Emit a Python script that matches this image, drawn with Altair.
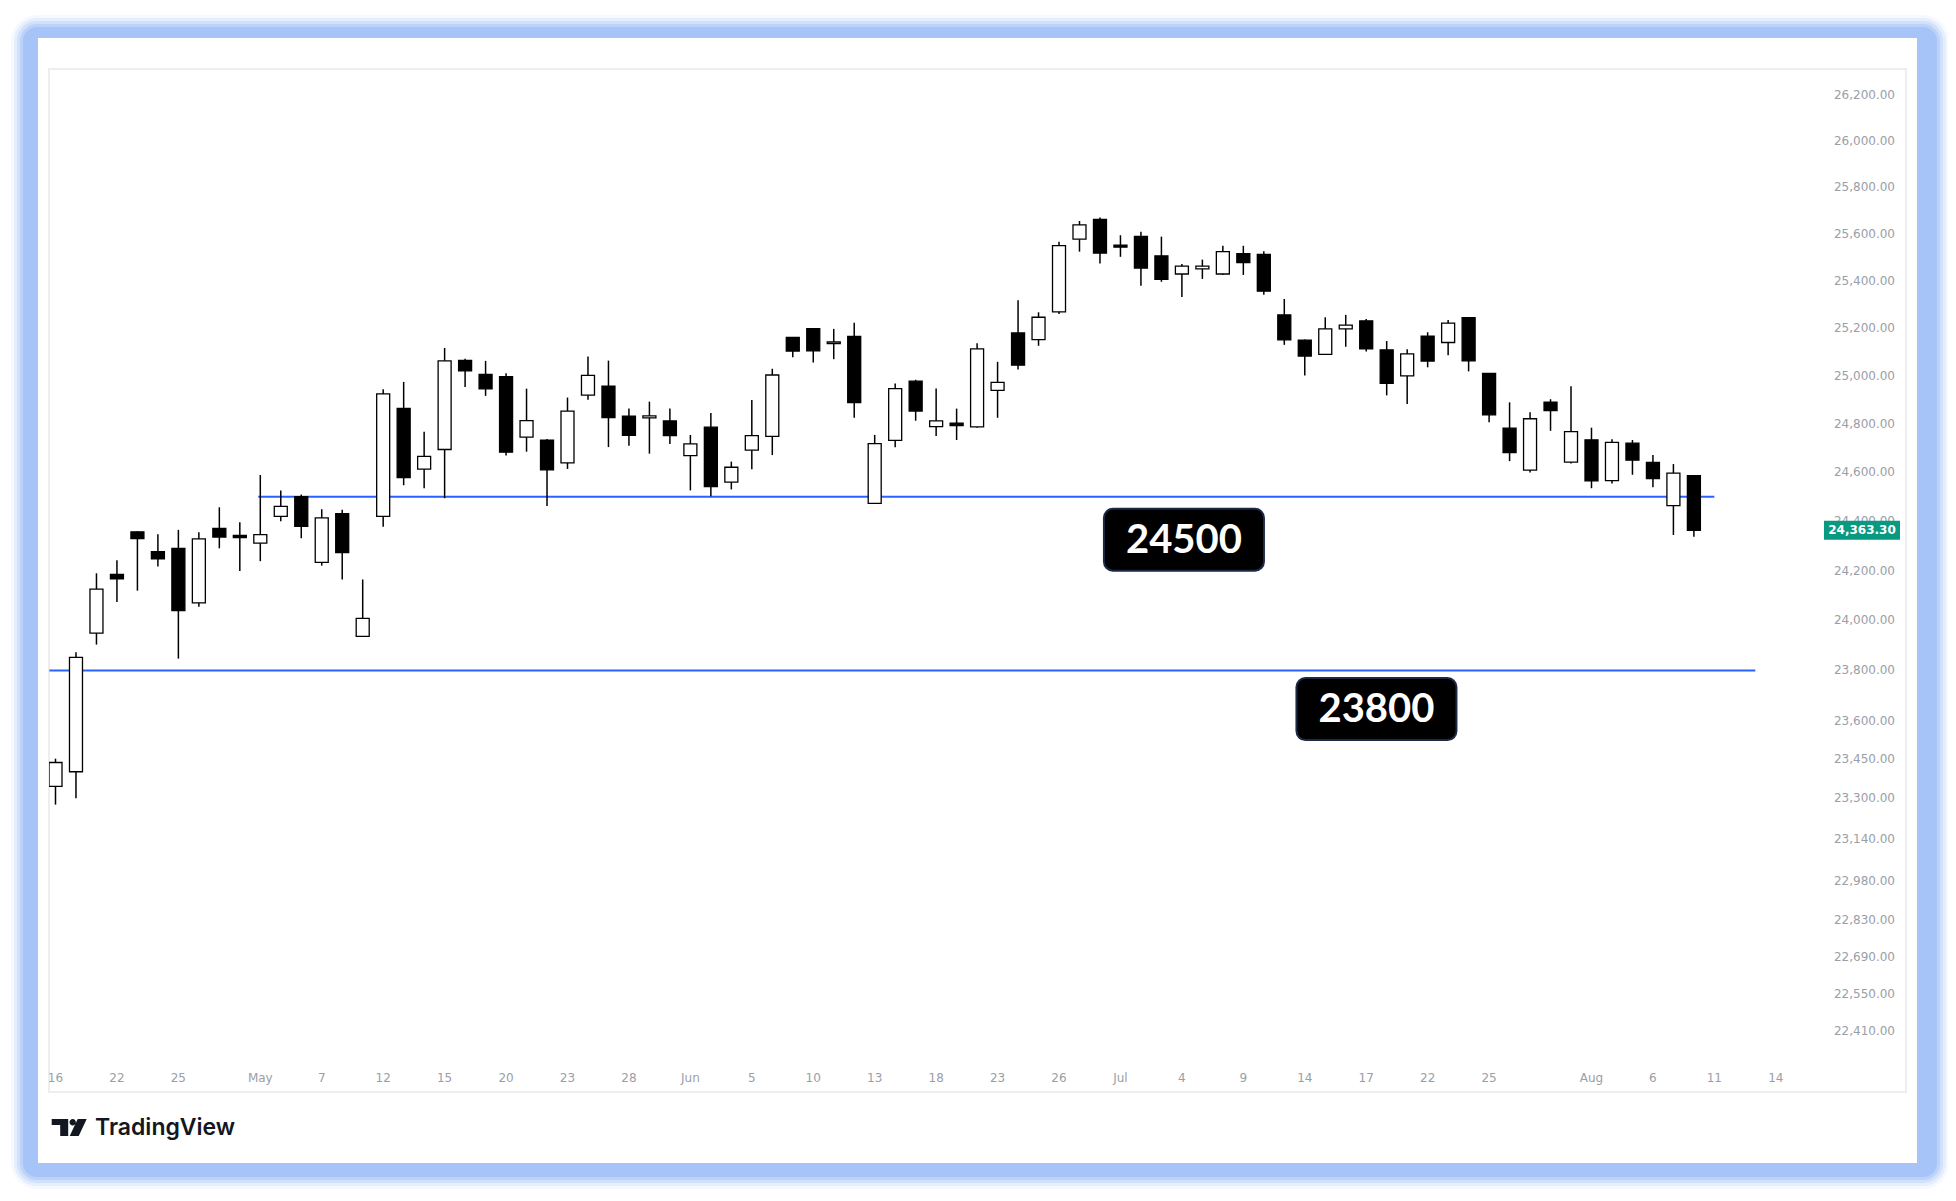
import altair as alt
import pandas as pd

# ---------------- data (Nifty 50 daily) ----------------
dates = ["Apr 16", "Apr 17", "Apr 21", "Apr 22", "Apr 23", "Apr 24", "Apr 25", "Apr 28", "Apr 29", "Apr 30",
         "May 2", "May 5", "May 6", "May 7", "May 8", "May 9", "May 12", "May 13", "May 14", "May 15",
         "May 16", "May 19", "May 20", "May 21", "May 22", "May 23", "May 26", "May 27", "May 28", "May 29",
         "May 30", "Jun 2", "Jun 3", "Jun 4", "Jun 5", "Jun 6", "Jun 9", "Jun 10", "Jun 11", "Jun 12",
         "Jun 13", "Jun 16", "Jun 17", "Jun 18", "Jun 19", "Jun 20", "Jun 23", "Jun 24", "Jun 25", "Jun 26",
         "Jun 27", "Jun 30", "Jul 1", "Jul 2", "Jul 3", "Jul 4", "Jul 7", "Jul 8", "Jul 9", "Jul 10",
         "Jul 11", "Jul 14", "Jul 15", "Jul 16", "Jul 17", "Jul 18", "Jul 21", "Jul 22", "Jul 23", "Jul 24",
         "Jul 25", "Jul 28", "Jul 29", "Jul 30", "Jul 31", "Aug 1", "Aug 4", "Aug 5", "Aug 6", "Aug 7", "Aug 8"]
opens = [23344, 23401, 23949, 24185, 24357, 24277, 24290, 24070, 24371, 24342,
         24311, 24420, 24500, 24233, 24431, 23936, 24420, 24864, 24613, 24694,
         25064, 25005, 24996, 24745, 24733, 24639, 24919, 24956, 24832, 24825,
         24812, 24669, 24786, 24560, 24691, 24748, 25160, 25197, 25134, 25164,
         24473, 24732, 24977, 24788, 24803, 24787, 24939, 25179, 25151, 25268,
         25576, 25661, 25551, 25588, 25505, 25428, 25450, 25428, 25514, 25511,
         25255, 25149, 25089, 25196, 25230, 25108, 24999, 25166, 25139, 25243,
         25010, 24782, 24609, 24890, 24642, 24734, 24566, 24720, 24641, 24464, 24586]
highs = [23452, 23872, 24189, 24242, 24359, 24347, 24365, 24355, 24457, 24396,
         24589, 24526, 24509, 24449, 24447, 24164, 24944, 24974, 24767, 25116,
         25071, 25062, 25010, 24946, 24737, 24909, 25080, 25063, 24864, 24892,
         24863, 24754, 24845, 24644, 24899, 25029, 25160, 25199, 25196, 25222,
         24754, 24967, 24983, 24947, 24863, 25136, 25058, 25317, 25266, 25565,
         25654, 25669, 25593, 25608, 25587, 25470, 25489, 25548, 25548, 25525,
         25322, 25151, 25245, 25255, 25238, 25145, 25111, 25182, 25233, 25246,
         25011, 24889, 24848, 24902, 24956, 24784, 24736, 24733, 24671, 24634, 24587]
lows = [23273, 23298, 23903, 24073, 24119, 24216, 23847, 24054, 24290, 24198,
        24238, 24400, 24331, 24220, 24164, 23935, 24378, 24547, 24535, 24494,
        24953, 24916, 24669, 24685, 24462, 24614, 24900, 24704, 24709, 24677,
        24717, 24526, 24502, 24530, 24613, 24671, 25077, 25055, 25069, 24825,
        24473, 24703, 24813, 24750, 24733, 24784, 24825, 25026, 25125, 25259,
        25523, 25473, 25501, 25378, 25395, 25331, 25407, 25424, 25424, 25340,
        25129, 25001, 25089, 25121, 25101, 24918, 24882, 25035, 25085, 25018,
        24807, 24646, 24599, 24771, 24636, 24535, 24554, 24590, 24539, 24344, 24337]
closes = [23437, 23852, 24125, 24167, 24329, 24247, 24039, 24328, 24336, 24334,
          24346, 24461, 24379, 24414, 24273, 24008, 24924, 24578, 24666, 25062,
          25020, 24945, 24683, 24813, 24610, 24853, 25001, 24826, 24752, 24833,
          24751, 24717, 24542, 24621, 24751, 25003, 25103, 25104, 25141, 24888,
          24718, 24946, 24853, 24812, 24793, 25112, 24972, 25044, 25245, 25549,
          25637, 25517, 25542, 25453, 25405, 25461, 25461, 25523, 25476, 25355,
          25150, 25082, 25196, 25212, 25112, 24968, 25091, 25061, 25220, 25062,
          24837, 24681, 24821, 24855, 24768, 24565, 24723, 24650, 24574, 24597, 24363.3]

# time-axis labels (trading-day index -> label)
x_tick_index = [0, 3, 6, 10, 13, 16, 19, 22, 25, 28, 31, 34, 37, 40, 43, 46, 49, 52, 55, 58,
                61, 64, 67, 70, 75, 78, 81, 84]
x_tick_label = ["16", "22", "25", "May", "7", "12", "15", "20", "23", "28", "Jun", "5", "10", "13",
                "18", "23", "26", "Jul", "4", "9", "14", "17", "22", "25", "Aug", "6", "11", "14"]

# price-axis labels
y_tick_value = [26200, 26000, 25800, 25600, 25400, 25200, 25000, 24800, 24600, 24400, 24200,
                24000, 23800, 23600, 23450, 23300, 23140, 22980, 22830, 22690, 22550, 22410]

# horizontal support levels (price, start index, end index)
level_price = [24500, 23800]
level_start = [9.9, -0.3]
level_end = [81.0, 83.0]

# level call-out labels (text, anchor index, anchor price)
callout_text = ["24500", "23800"]
callout_index = [55.1, 64.5]
callout_price = [24325, 23647]

last_price = [24363.30]

# ---------------- frames ----------------
W, H = 1857, 1023
xscale = alt.Scale(domain=[-0.3174, 90.357], nice=False, zero=False, padding=0)
yscale = alt.Scale(type="log", domain=[22183, 26313], nice=False, zero=False, padding=0)

ohlc = pd.DataFrame({"i": list(range(len(dates))), "date": dates, "o": opens,
                     "h": highs, "l": lows, "c": closes})
xt = pd.DataFrame({"i": x_tick_index, "t": x_tick_label})
yt = pd.DataFrame({"v": y_tick_value,
                   "t": [f"{v:,.2f}" for v in y_tick_value]})
lv = pd.DataFrame({"p": level_price, "s": level_start, "e": level_end})
co = pd.DataFrame({"t": callout_text, "ci": callout_index, "cp": callout_price})
lp = pd.DataFrame({"v": last_price, "t": [f"{v:,.2f}" for v in last_price]})
one = pd.DataFrame({"k": [0]})

GLOW = "#a6c4f8"


def box(x1, x2, y1, y2, **kw):
    return alt.Chart(one).mark_rect(**kw).encode(
        x=alt.value(x1), x2=alt.value(x2), y=alt.value(y1), y2=alt.value(y2))


deco = []
for e, op in [(12, 0.1), (9, 0.2), (6, 0.3), (3, 0.5), (0, 1.0)]:
    deco.append(box(-26 - e, 1888 + e, -42 - e, 1108 + e, color=GLOW, opacity=op,
                    cornerRadius=14 + e))
deco.append(box(-11, 1868, -31, 1094, color="white"))
deco.append(box(0, W, 0, H, fill="white", stroke="#eeeeee", strokeWidth=2))

wicks = alt.Chart(ohlc).mark_rule(color="black", strokeWidth=1.5, clip=True).encode(
    x=alt.X("i:Q", scale=xscale, axis=None),
    y=alt.Y("l:Q", scale=yscale, axis=None),
    y2="h:Q")

bodies = alt.Chart(ohlc).mark_bar(size=13, stroke="black", strokeWidth=1.3, clip=True).encode(
    x=alt.X("i:Q", scale=xscale, axis=None),
    y=alt.Y("o:Q", scale=yscale, axis=None),
    y2="c:Q",
    fill=alt.condition("datum.c >= datum.o", alt.value("white"), alt.value("black")))

levels = alt.Chart(lv).mark_rule(color="#2962ff", strokeWidth=2).encode(
    x=alt.X("s:Q", scale=xscale, axis=None), x2="e:Q",
    y=alt.Y("p:Q", scale=yscale, axis=None))

callout_box = alt.Chart(co).mark_rect(
    fill="black", stroke="#1c2a48", strokeWidth=2, cornerRadius=9,
    xOffset=-80, x2Offset=80, yOffset=-31, y2Offset=31).encode(
    x=alt.X("ci:Q", scale=xscale, axis=None), x2="ci:Q",
    y=alt.Y("cp:Q", scale=yscale, axis=None), y2="cp:Q")

callout_txt = alt.Chart(co).mark_text(
    font="Lato", fontWeight="bold", fontSize=40, color="white",
    align="center", baseline="middle", dy=1).encode(
    x=alt.X("ci:Q", scale=xscale, axis=None),
    y=alt.Y("cp:Q", scale=yscale, axis=None), text="t:N")

xlabels = alt.Chart(xt).mark_text(
    font="DejaVu Sans", fontSize=12, color="#9a9ea7", align="center", baseline="middle",
    clip=True).encode(
    x=alt.X("i:Q", scale=xscale, axis=None), y=alt.value(1009), text="t:N")

ylabels = alt.Chart(yt).mark_text(
    font="DejaVu Sans", fontSize=12, color="#9a9ea7", align="right", baseline="middle").encode(
    x=alt.value(1846), y=alt.Y("v:Q", scale=yscale, axis=None), text="t:N")

tag_rect = alt.Chart(lp).mark_rect(color="#089981", yOffset=-9.5, y2Offset=9.5).encode(
    x=alt.value(1775), x2=alt.value(1851),
    y=alt.Y("v:Q", scale=yscale, axis=None), y2="v:Q")

tag_txt = alt.Chart(lp).mark_text(
    font="DejaVu Sans", fontSize=12, fontWeight="bold", color="white",
    align="center", baseline="middle").encode(
    x=alt.value(1813), y=alt.Y("v:Q", scale=yscale, axis=None), text="t:N")

logo_path = ("M0,0 H16.5 V17 H8.5 V6 H0 Z "
             "M17.8,3.2 A3.2,3.2 0 1,0 24.2,3.2 A3.2,3.2 0 1,0 17.8,3.2 Z "
             "M26,0 H35 L27,17 H18 Z")
logo_icon = alt.Chart(one).mark_point(
    shape=logo_path, size=4, filled=True, fill="#131722", stroke=None, opacity=1).encode(
    x=alt.value(2.7), y=alt.value(1050))

logo_txt = alt.Chart(one).mark_text(
    text="TradingView", font="Inter", fontWeight=600, fontSize=23, color="#131722",
    align="left", baseline="middle").encode(x=alt.value(46), y=alt.value(1059))

chart = alt.layer(
    *deco, levels, wicks, bodies, callout_box, callout_txt, xlabels, ylabels,
    tag_rect, tag_txt, logo_icon, logo_txt
).resolve_scale(x="shared", y="shared").properties(
    width=W, height=H,
    padding={"left": 41, "top": 61, "right": 42, "bottom": 100},
    autosize=alt.AutoSizeParams(type="none"),
    background="white",
).configure_view(stroke=None)

chart.save("out.html", embed_options={"renderer": "svg", "actions": False})
